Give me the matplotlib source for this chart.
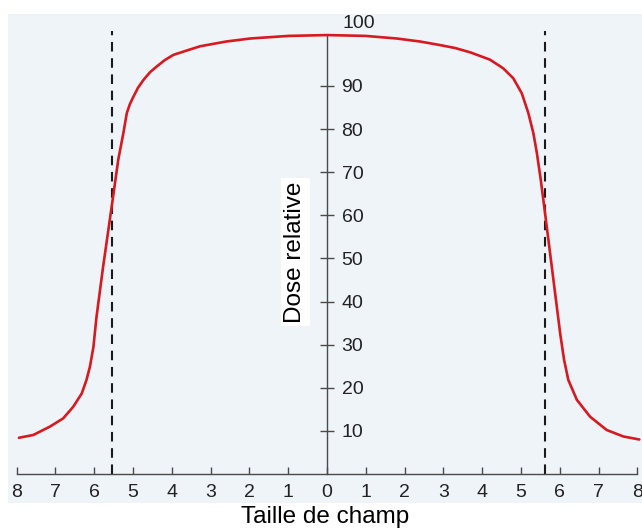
import matplotlib
matplotlib.use("Agg")
import matplotlib.pyplot as plt
from matplotlib.patches import Rectangle

plt.rcParams["font.family"] = ["Liberation Sans", "DejaVu Sans"]

# Beam profile: off-axis position (cm) and relative dose (%)
position = [-7.94, -7.57, -7.14, -6.80, -6.54, -6.32, -6.20, -6.11, -6.02, -5.94,
            -5.77, -5.55, -5.38, -5.25, -5.16, -5.08, -4.99, -4.87, -4.73, -4.56,
            -4.39, -4.18, -3.96, -3.62, -3.27, -2.60, -1.98, -1.00, 0.0, 1.00,
            1.80, 2.40, 2.90, 3.30, 3.69, 4.20, 4.54, 4.80, 5.02, 5.19, 5.32,
            5.41, 5.51, 5.62, 5.75, 5.88, 6.01, 6.11, 6.22, 6.44, 6.78, 7.21,
            7.64, 8.05]
dose = [8.4, 9.05, 11.0, 12.9, 15.6, 18.7, 21.8, 24.9, 29.5, 36.5,
        48.1, 62.0, 72.9, 79.0, 83.7, 85.8, 87.5, 89.6, 91.4, 93.2,
        94.5, 96.0, 97.2, 98.2, 99.2, 100.3, 101.0, 101.6, 101.8, 101.6,
        101.0, 100.3, 99.5, 98.8, 97.8, 96.1, 94.1, 91.8, 88.3, 83.7, 79.0,
        74.4, 68.2, 60.5, 51.2, 41.9, 32.6, 26.5, 21.8, 17.2, 13.3, 10.2,
        8.7, 8.0]

# Field edges (50 % isodose) marked by dashed lines
field_edges = [-5.53, 5.63]

x_ticks = list(range(-8, 9))
x_tick_labels = [str(abs(v)) for v in x_ticks]
y_ticks = [10, 20, 30, 40, 50, 60, 70, 80, 90]

W, H = 642, 529
fig = plt.figure(figsize=(W / 100, H / 100), dpi=100)
fig.patch.set_facecolor("white")

# light panel behind the plot
fig.add_artist(Rectangle((8 / W, 26 / H), 634 / W, 489.5 / H,
                         transform=fig.transFigure, facecolor="#eff4f9",
                         edgecolor="none", zorder=-10))

ax = fig.add_axes([8 / W, 55 / H, 634 / W, 460.5 / H])
ax.set_facecolor("none")
ax.set_zorder(1)
ax.set_xlim(-8.222, 8.119)
ax.set_ylim(0, 106.8)

axis_col = "#4a4a4a"
ax.spines["top"].set_visible(False)
ax.spines["left"].set_visible(False)
ax.spines["bottom"].set_bounds(-8, 8)
ax.spines["bottom"].set_color(axis_col)
ax.spines["bottom"].set_linewidth(1.0)
ax.spines["right"].set_position(("data", 0))
ax.spines["right"].set_bounds(0, 101.7)
ax.spines["right"].set_color(axis_col)
ax.spines["right"].set_linewidth(1.0)

ax.set_xticks(x_ticks)
ax.set_xticklabels(x_tick_labels)
ax.tick_params(axis="x", direction="in", length=5, width=1.0, color=axis_col,
               labelsize=14, pad=7.5, labelcolor="#222222")

ax.yaxis.set_ticks_position("right")
ax.set_yticks(y_ticks)
ax.tick_params(axis="y", direction="inout", length=10, width=1.0, color=axis_col,
               labelsize=14, pad=5.5, labelcolor="#222222")
ax.text(0.39, 104.4, "100", ha="left", va="center", fontsize=14, color="#222222")

for xe in field_edges:
    ax.plot([xe, xe], [0, 102.8], color="#1a1a1a", lw=1.5,
            linestyle=(0, (4.6, 3.2)), zorder=2)

ax.plot(position, dose, color="#d71920", lw=1.9, solid_capstyle="round",
        solid_joinstyle="round", antialiased=True, zorder=3)

ax.text(-0.82, 51.5, "Dose relative", rotation=90, ha="center", va="center",
        fontsize=17.5, color="black",
        bbox=dict(facecolor="white", edgecolor="none", pad=2.5))

fig.text(325 / W, (H - 517) / H, "Taille de champ", ha="center", va="center",
         fontsize=17.5, color="black")

fig.savefig("out.png", dpi=100)
